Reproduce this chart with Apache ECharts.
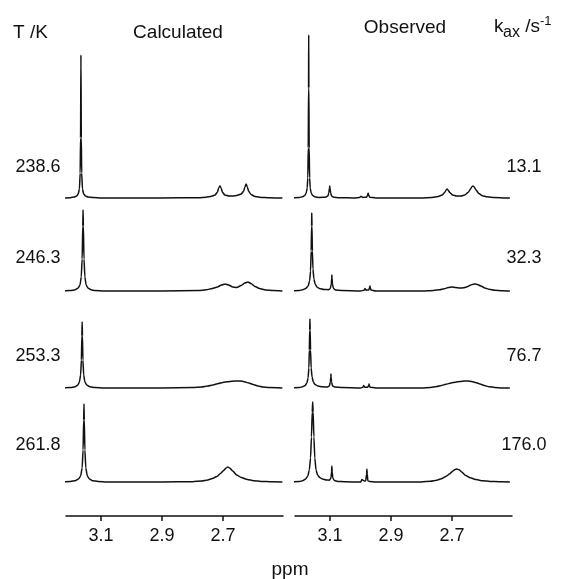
<!DOCTYPE html>
<html>
<head>
<meta charset="utf-8">
<script src="https://cdn.jsdelivr.net/npm/echarts@6/dist/echarts.min.js"></script>
<style>
  html, body { margin: 0; padding: 0; background: #fff; }
  #main { width: 563px; height: 579px; }
</style>
</head>
<body>
<div id="main"></div>
<script>
// temperatures (left) and exchange rates (right), one per row
var temps = ['238.6', '246.3', '253.3', '261.8'];
var rates = ['13.1', '32.3', '76.7', '176.0'];
var ppmTicks = [3.1, 2.9, 2.7];

// spectra: [ppm, height above baseline]
var calc2386 = [[3.225,0],[3.20,0.3],[3.188,1],[3.180,2],[3.175,4],[3.171,9],[3.1685,25],[3.1672,60],[3.166,143],[3.1648,60],[3.1635,25],[3.161,9],[3.157,4],[3.151,2],[3.143,1],[3.125,0.4],[3.10,0],[2.90,0],[2.78,0.3],[2.755,0.8],[2.74,1.5],[2.726,3],[2.718,6],[2.714,10],[2.710,12],[2.706,10],[2.702,6],[2.694,3],[2.680,2],[2.667,2],[2.655,2.5],[2.640,4],[2.632,7],[2.628,11],[2.624,14],[2.620,11],[2.616,7],[2.608,3.5],[2.595,1.5],[2.575,0.6],[2.55,0.2],[2.505,0]];
var calc2463 = [[3.225,0],[3.20,0.4],[3.185,1.2],[3.175,3],[3.169,6],[3.165,14],[3.162,32],[3.160,65],[3.159,81],[3.158,65],[3.156,32],[3.153,14],[3.149,6],[3.143,3],[3.133,1.2],[3.12,0.5],[3.09,0],[2.90,0],[2.78,0.4],[2.755,1.2],[2.735,2.5],[2.718,4],[2.705,6],[2.693,7],[2.681,6],[2.668,4],[2.655,3.5],[2.640,5.5],[2.628,8],[2.618,9],[2.608,7.5],[2.595,4.5],[2.58,2.5],[2.56,1],[2.535,0.4],[2.505,0]];
var calc2533 = [[3.225,0],[3.20,0.4],[3.185,1.2],[3.176,3],[3.171,6],[3.167,13],[3.1645,28],[3.163,52],[3.162,66],[3.161,52],[3.1595,28],[3.157,13],[3.153,6],[3.147,3],[3.137,1.2],[3.12,0.4],[3.09,0],[2.90,0],[2.80,0.4],[2.77,1],[2.75,2],[2.733,3],[2.715,4.5],[2.700,5.5],[2.685,6.3],[2.670,6.8],[2.655,7],[2.644,7],[2.630,6.3],[2.615,5],[2.601,3.5],[2.585,2],[2.569,1],[2.55,0.4],[2.505,0]];
var calc2618 = [[3.225,0],[3.20,0.5],[3.185,1.3],[3.174,3],[3.167,6],[3.162,14],[3.159,32],[3.157,62],[3.156,78],[3.155,62],[3.153,32],[3.150,14],[3.145,6],[3.138,3],[3.128,1.3],[3.11,0.5],[3.08,0],[2.90,0],[2.80,0.3],[2.77,1],[2.75,2],[2.735,3.5],[2.72,5.5],[2.708,8.5],[2.698,11.5],[2.690,14],[2.684,15],[2.678,14],[2.668,11],[2.655,7],[2.64,4.5],[2.62,2.5],[2.60,1.3],[2.575,0.6],[2.54,0.2],[2.505,0]];

var obs131 = [[3.23,0],[3.20,0.5],[3.19,1.2],[3.183,2.5],[3.178,5],[3.175,10],[3.173,20],[3.1715,50],[3.1705,110],[3.170,163],[3.1695,110],[3.1685,50],[3.167,20],[3.165,10],[3.162,5],[3.157,2.5],[3.150,1.2],[3.135,0.5],[3.115,0.8],[3.107,2],[3.104,5],[3.102,10],[3.101,12],[3.100,10],[3.098,5],[3.095,2],[3.088,0.8],[3.07,0.3],[3.02,0],[3.003,0.5],[2.9995,1.5],[2.998,2],[2.9965,1.5],[2.993,0.5],[2.980,0.8],[2.9765,3],[2.975,5],[2.9735,3],[2.970,0.8],[2.95,0],[2.80,0],[2.765,0.6],[2.745,1.5],[2.732,3],[2.724,5.5],[2.719,8],[2.716,9],[2.713,8],[2.707,5.5],[2.698,3],[2.685,2],[2.670,2],[2.658,3],[2.647,5.5],[2.639,9],[2.634,11.5],[2.631,12],[2.627,11],[2.621,8],[2.612,4.5],[2.600,2.3],[2.585,1.2],[2.56,0.5],[2.525,0.1],[2.51,0]];
var obs323 = [[3.23,0],[3.20,0.5],[3.19,1.2],[3.180,2.5],[3.172,5],[3.167,10],[3.164,20],[3.162,40],[3.1605,65],[3.160,78],[3.1593,65],[3.158,40],[3.156,22],[3.153,12],[3.149,7],[3.143,4],[3.135,2.5],[3.120,1.5],[3.105,1.3],[3.099,2.5],[3.096,7],[3.0945,13],[3.094,16],[3.0935,13],[3.092,7],[3.089,2.5],[3.082,1],[3.06,0.4],[3.00,0],[2.988,0.8],[2.9855,2.5],[2.985,3],[2.9845,2.5],[2.982,0.8],[2.973,1],[2.9695,4],[2.969,5],[2.9685,4],[2.966,1],[2.95,0],[2.80,0],[2.76,0.6],[2.74,1.3],[2.725,2.3],[2.712,3.5],[2.700,4],[2.688,3.6],[2.675,3],[2.662,3.2],[2.650,4.3],[2.638,6],[2.630,6.8],[2.624,7],[2.616,6.5],[2.605,5],[2.592,3],[2.578,1.8],[2.56,0.8],[2.535,0.3],[2.51,0]];
var obs767 = [[3.23,0],[3.20,0.5],[3.19,1.2],[3.182,2.5],[3.176,5],[3.172,10],[3.1695,20],[3.168,38],[3.1667,58],[3.166,69],[3.1653,58],[3.164,38],[3.162,20],[3.159,11],[3.155,6],[3.149,3.5],[3.140,2],[3.125,1.2],[3.108,1],[3.102,2.2],[3.099,6],[3.0975,11],[3.097,14],[3.0965,11],[3.095,6],[3.092,2.2],[3.085,1],[3.06,0.4],[3.00,0],[2.992,0.8],[2.9895,2.5],[2.989,3],[2.9885,2.5],[2.986,0.8],[2.976,0.8],[2.9725,3.3],[2.972,4],[2.9715,3.3],[2.969,0.8],[2.95,0],[2.80,0],[2.77,0.6],[2.75,1.5],[2.735,2.5],[2.720,3.8],[2.703,5],[2.688,5.8],[2.673,6.5],[2.660,6.9],[2.647,7],[2.635,6.6],[2.622,5.5],[2.608,4],[2.594,2.5],[2.578,1.3],[2.56,0.5],[2.535,0.1],[2.51,0]];
var obs1760 = [[3.23,0],[3.20,0.5],[3.19,1.3],[3.180,3],[3.173,6],[3.168,12],[3.164,24],[3.161,45],[3.1585,70],[3.157,80],[3.1555,70],[3.153,45],[3.150,24],[3.146,12],[3.141,7],[3.134,4.5],[3.125,3],[3.112,2],[3.102,1.8],[3.097,4],[3.095,10],[3.094,16],[3.093,10],[3.091,4],[3.086,1.5],[3.075,0.6],[3.05,0.2],[3.00,0],[2.9975,1],[2.9955,2.5],[2.995,3],[2.9945,2.5],[2.9875,1],[2.983,1.2],[2.980,8],[2.979,13],[2.978,8],[2.976,1.2],[2.97,0.4],[2.95,0],[2.80,0],[2.77,0.8],[2.75,1.8],[2.735,3.2],[2.72,5.5],[2.708,8],[2.697,11],[2.690,12.5],[2.684,13],[2.677,12.3],[2.668,10],[2.655,6.5],[2.64,4.2],[2.62,2.4],[2.60,1.3],[2.575,0.6],[2.54,0.2],[2.51,0]];

var calculated = [calc2386, calc2463, calc2533, calc2618];
var observed = [obs131, obs323, obs767, obs1760];

// layout
var INK = '#111';
var FONT = 'Liberation Sans, Arial, Helvetica, sans-serif';
var rowBase = [198, 291, 388, 482];
var SPEC_H = 170;
var PPM_MIN = 2.503, PPM_MAX = 3.215;
var panels = [{ left: 66, spectra: calculated }, { left: 295, spectra: observed }];

var chart = echarts.init(document.getElementById('main'));
var grids = [], xAxes = [], yAxes = [], series = [];

panels.forEach(function (p) {
    p.spectra.forEach(function (spec, r) {
        var i = grids.length;
        grids.push({ left: p.left, width: 217, top: rowBase[r] - SPEC_H, height: SPEC_H });
        xAxes.push({ gridIndex: i, type: 'value', min: PPM_MIN, max: PPM_MAX, inverse: true, show: false });
        yAxes.push({ gridIndex: i, type: 'value', min: 0, max: SPEC_H, show: false });
        series.push({
            type: 'line', xAxisIndex: i, yAxisIndex: i, data: spec,
            symbol: 'none', smooth: 0.2, smoothMonotone: 'x', clip: false, silent: true,
            lineStyle: { color: INK, width: 1.5 }
        });
    });
    // ppm scale under each column
    var a = grids.length;
    grids.push({ left: p.left, width: 217, top: 500, height: 16 });
    xAxes.push({
        gridIndex: a, type: 'value', min: PPM_MIN, max: PPM_MAX, inverse: true, position: 'bottom',
        axisLine: { show: true, onZero: false, lineStyle: { color: INK, width: 1.5 } },
        axisTick: { show: true, length: 5, customValues: ppmTicks, lineStyle: { color: INK, width: 1.5 } },
        axisLabel: { customValues: ppmTicks, margin: 11, color: INK, fontSize: 18, fontFamily: FONT,
                     formatter: function (v) { return v.toFixed(1); } },
        splitLine: { show: false }
    });
    yAxes.push({ gridIndex: a, type: 'value', min: 0, max: 1, show: false });
});

function label(text, x, y, size, align) {
    return {
        type: 'text', x: x, y: y, silent: true,
        style: { text: text, fill: INK, font: size + 'px ' + FONT,
                 textAlign: align || 'center', textVerticalAlign: 'middle' }
    };
}

var graphics = [
    label('T /K', 13, 33, 19, 'left'),
    label('Calculated', 178, 33, 19),
    label('Observed', 405, 28, 19),
    label('k', 494, 27, 19, 'left'),
    label('ax', 503, 33, 16, 'left'),
    label(' /s', 520, 27, 19, 'left'),
    label('-1', 540, 21, 13, 'left'),
    label('ppm', 290, 570, 19)
];
var tempY = [167, 258, 356, 445];
temps.forEach(function (t, r) { graphics.push(label(t, 38, tempY[r], 18)); });
rates.forEach(function (k, r) { graphics.push(label(k, 524, tempY[r], 18)); });

chart.setOption({
    backgroundColor: '#fff',
    animation: false,
    grid: grids,
    xAxis: xAxes,
    yAxis: yAxes,
    series: series,
    graphic: graphics
});
</script>
</body>
</html>
